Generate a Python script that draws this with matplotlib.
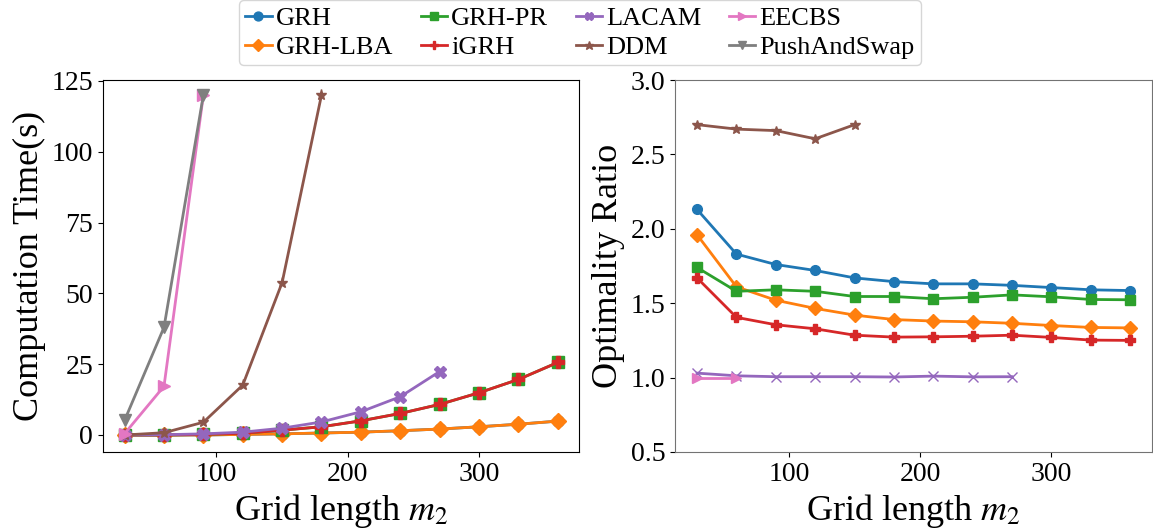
import numpy as np
import matplotlib
matplotlib.use('Agg')
import matplotlib.pyplot as plt

plt.rcParams['font.family'] = ['Liberation Serif', 'DejaVu Serif']
plt.rcParams['mathtext.fontset'] = 'stix'

# Grid length m2
grid = [30, 60, 90, 120, 150, 180, 210, 240, 270, 300, 330, 360]

nomes = ['GRH', 'GRH-LBA', 'GRH-PR', 'iGRH', 'LACAM', 'DDM', 'EECBS', 'PushAndSwap']
marcadores = ['o', 'D', 's', 'P', 'X', '*', '>', 'v']

# Tempo de computacao (s)
tempo_grh = [0.0, 0.0, 0.0, 0.2, 0.4, 0.7, 1.0, 1.5, 2.1, 2.9, 3.8, 4.9]
tempo_grh_lba = [0.0, 0.0, 0.0, 0.2, 0.4, 0.7, 1.0, 1.5, 2.1, 2.9, 3.8, 4.9]
tempo_grh_pr = [0.0, 0.0, 0.2, 0.6, 1.7, 2.9, 5.0, 7.6, 10.8, 14.9, 19.6, 25.6]
tempo_igrh = [0.0, 0.0, 0.2, 0.6, 1.7, 2.9, 5.0, 7.6, 10.8, 14.9, 19.6, 25.6]
tempo_lacam = [0.0, 0.1, 0.4, 1.0, 2.4, 4.6, 8.2, 13.5, 22.4]
tempo_ddm = [0.0, 0.8, 4.5, 17.6, 53.8, 120.0]
tempo_eecbs = [0.5, 17.2, 120.0]
tempo_pas = [5.2, 38.0, 120.0]

# Razao de otimalidade
ratio_grh = [2.13, 1.83, 1.76, 1.72, 1.67, 1.645, 1.63, 1.63, 1.62, 1.605, 1.59, 1.585]
ratio_grh_lba = [1.96, 1.61, 1.52, 1.465, 1.42, 1.39, 1.38, 1.375, 1.365, 1.35, 1.337, 1.334]
ratio_grh_pr = [1.74, 1.58, 1.59, 1.58, 1.545, 1.545, 1.53, 1.54, 1.556, 1.543, 1.525, 1.523]
ratio_igrh = [1.67, 1.405, 1.355, 1.328, 1.285, 1.272, 1.274, 1.278, 1.285, 1.27, 1.252, 1.25]
ratio_lacam = [1.03, 1.012, 1.006, 1.006, 1.006, 1.004, 1.01, 1.005, 1.006]
ratio_ddm = [2.70, 2.67, 2.66, 2.605, 2.70]
ratio_eecbs = [1.0, 1.0]

tempos = [tempo_grh, tempo_grh_lba, tempo_grh_pr, tempo_igrh, tempo_lacam, tempo_ddm, tempo_eecbs, tempo_pas]
ratios = [ratio_grh, ratio_grh_lba, ratio_grh_pr, ratio_igrh, ratio_lacam, ratio_ddm, ratio_eecbs, None]

fig, (ax1, ax2) = plt.subplots(1, 2, figsize=(11.53, 5.31), dpi=100)
plt.subplots_adjust(left=0.0893, right=0.999, bottom=0.1488, top=0.8493, wspace=0.2015)

cores = ['C%d' % i for i in range(8)]

for nome, marc, cor, ys in zip(nomes, marcadores, cores, tempos):
    ax1.plot(grid[:len(ys)], ys, marker=marc, color=cor, label=nome, lw=2, ms=8)

for nome, marc, cor, ys in zip(nomes, marcadores, cores, ratios):
    if ys is None:
        continue
    m = 'x' if nome == 'LACAM' else marc
    ax2.plot(grid[:len(ys)], ys, marker=m, color=cor, lw=2, ms=7)

ax1.set_ylim(-6, 125.3)
ax1.set_yticks([0, 25, 50, 75, 100, 125])
ax1.set_xticks([100, 200, 300])
ax1.set_ylabel('Computation Time(s)', fontsize=26)
ax1.set_xlabel('Grid length $m_2$', fontsize=26)

ax2.set_ylim(0.5, 3.0)
ax2.set_yticks([0.5, 1.0, 1.5, 2.0, 2.5, 3.0])
ax2.set_xticks([100, 200, 300])
ax2.set_ylabel('Optimality Ratio', fontsize=26)
ax2.set_xlabel('Grid length $m_2$', fontsize=26)
for s in ax2.spines.values():
    s.set_color('0.45')

for ax in (ax1, ax2):
    ax.tick_params(labelsize=20)

handles, labels = ax1.get_legend_handles_labels()
fig.legend(handles, labels, loc='upper center', bbox_to_anchor=(0.503, 1.025), ncol=4,
           fontsize=19, handlelength=1.0, handletextpad=0.15, columnspacing=1.05,
           labelspacing=0.2, borderpad=0.25, markerscale=0.8)

plt.savefig('out.png', dpi=100)
plt.close('all')
